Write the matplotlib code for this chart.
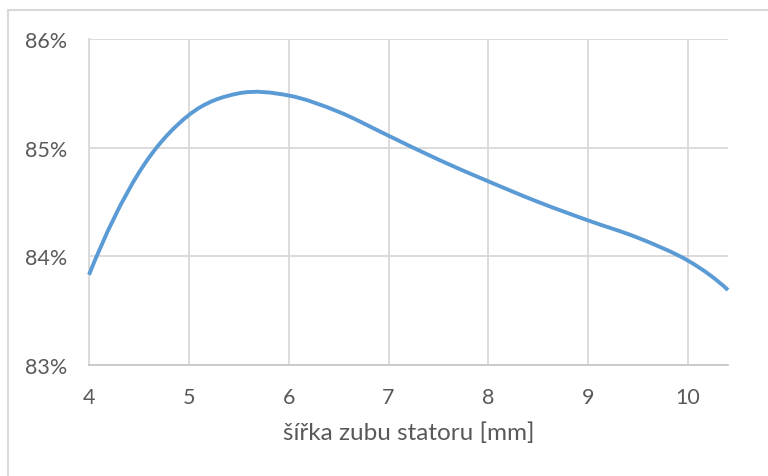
import numpy as np
import matplotlib.pyplot as plt
from matplotlib.patches import Rectangle, PathPatch
from matplotlib.path import Path
from matplotlib.ticker import FuncFormatter

# data (efficiency in %)
width_mm = [4.0, 4.5, 5.0, 5.5, 6.0, 6.5, 7.0, 7.5, 8.0, 8.5, 9.0, 9.5, 10.0, 10.4]
efficiency = [83.83, 84.77, 85.30, 85.50, 85.48, 85.33, 85.11, 84.89, 84.69, 84.50,
              84.33, 84.17, 83.96, 83.69]
x_ticks = [4, 5, 6, 7, 8, 9, 10]
y_ticks = [83, 84, 85, 86]
x_label = "šířka zubu statoru [mm]"


def smooth_path(x, y):
    # smoothed line: cubic Bezier segments through every point,
    # end tangents taken from a quadratic through the last three points
    p = np.column_stack([x, y])
    first = 3 * p[0] - 3 * p[1] + p[2]
    last = 3 * p[-1] - 3 * p[-2] + p[-3]
    q = np.vstack([first, p, last])
    verts = [p[0]]
    codes = [Path.MOVETO]
    for i in range(1, len(q) - 2):
        c1 = q[i] + (q[i + 1] - q[i - 1]) / 6
        c2 = q[i + 1] - (q[i + 2] - q[i]) / 6
        verts += [c1, c2, q[i + 1]]
        codes += [Path.CURVE4] * 3
    return Path(verts, codes)


plt.rcParams['font.family'] = ['Lato', 'DejaVu Sans']

fig = plt.figure(figsize=(7.68, 4.77), dpi=100)
# chart frame (cropped on the right and bottom)
fig.patches.append(Rectangle((8 / 768, -0.1), 1.2, 1 - 11 / 477 + 0.1,
                             transform=fig.transFigure, fill=False,
                             edgecolor="#d9d9d9", linewidth=1.5))

ax = fig.add_axes([89 / 768, 1 - 366 / 477, 639 / 768, 326 / 477])
ax.add_patch(PathPatch(smooth_path(width_mm, efficiency), fill=False,
                       edgecolor="#5b9bd5", linewidth=2.8, capstyle="butt",
                       joinstyle="round", zorder=3, clip_on=False))

ax.set_xlim(4, 10.4)
ax.set_ylim(83, 86)
ax.set_xticks(x_ticks)
ax.set_yticks(y_ticks)
ax.yaxis.set_major_formatter(FuncFormatter(lambda v, p: f"{v:.0f}%"))
ax.grid(color="#d9d9d9", linewidth=1.3)
ax.set_axisbelow(True)
for side in ["top", "right"]:
    ax.spines[side].set_visible(False)
ax.spines["left"].set_color("#d9d9d9")
ax.spines["left"].set_linewidth(1.3)
ax.spines["bottom"].set_color("#c8c8c8")
ax.spines["bottom"].set_linewidth(1.3)
ax.tick_params(length=0, labelsize=15.5, labelcolor="#595959")
ax.tick_params(axis="y", pad=16)
ax.tick_params(axis="x", pad=16)
ax.set_xlabel(x_label, fontsize=17.5, color="#595959", labelpad=10)

fig.savefig("out.png", dpi=100)
